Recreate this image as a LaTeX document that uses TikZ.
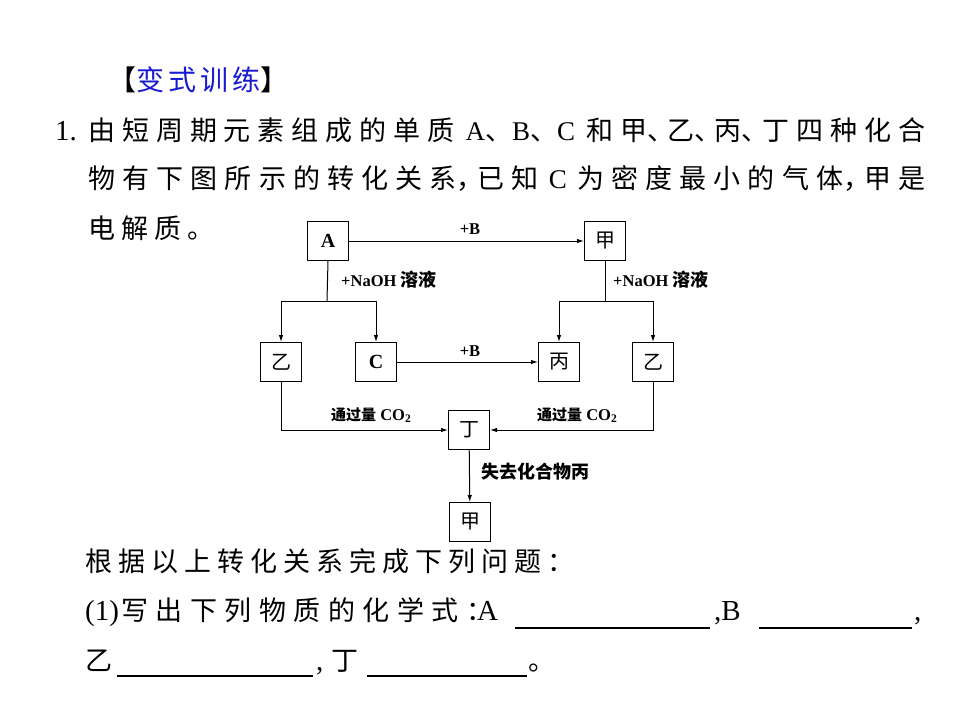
\documentclass[tikz,border=0pt]{standalone}
\usepackage{fontspec}
\usetikzlibrary{arrows.meta}
\newfontfamily\cjk{Noto Sans CJK SC}
\newfontfamily\cjkhalf[RawFeature=+halt]{Noto Sans CJK SC}
\newfontfamily\lat{Liberation Serif}
\definecolor{headblue}{RGB}{25,25,210}
\makeatletter
\newcommand\sprd[2]{\def\sprd@g{\hskip #1 plus 1fil\relax}\sprd@i#2\sprd@end}
\def\sprd@end{\sprd@end@}
\def\sprd@i#1{\ifx\sprd@end#1\unskip\else{#1}\sprd@g\expandafter\sprd@i\fi}
\makeatother
\newcommand\hw[1]{{\cjkhalf #1}}
\tikzset{
  txt/.style={inner sep=0pt, anchor=base west, font=\cjk\fontsize{27}{27}\selectfont},
  ltxt/.style={inner sep=0pt, anchor=base west, font=\lat\fontsize{29}{29}\selectfont},
  box/.style={draw, line width=1pt, minimum width=41pt, minimum height=39pt, inner sep=0pt},
  boxcjk/.style={box, font=\cjk\fontsize{20}{20}\selectfont},
  boxlat/.style={box, font=\lat\bfseries\fontsize{20}{20}\selectfont},
  lab/.style={inner sep=0pt, font=\lat\bfseries\fontsize{16.5}{16.5}\selectfont},
  labw/.style={lab, anchor=west},
  arr/.style={line width=1pt, -{Latex[length=7pt,width=4.5pt]}},
  ln/.style={line width=1pt},
  blank/.style={line width=1.6pt}
}
\begin{document}
\begin{tikzpicture}[x=1pt,y=-1pt]
\fill[white] (0,0) rectangle (960,720);
\useasboundingbox (0,0) rectangle (960,720);
% heading
\node[inner sep=0pt, anchor=base west, font=\cjk\fontsize{28}{28}\selectfont] (head) at (108,90) {【\textcolor{headblue}{\sprd{4pt}{变式训练}}】};
% question text
\node[ltxt] (num) at (55,140) {1.};
\node[txt] (l1) at (88,140) {\hbox to 837pt{\sprd{6pt}{由短周期元素组成的单{质\hspace{4pt}}{{\lat A}、{\lat B}、{\lat C}\hspace{4pt}}和{甲\hw{、}}{乙\hw{、}}{丙\hw{、}}丁四种化合}}};
\node[txt] (l2) at (88,188) {\hbox to 837pt{\sprd{6pt}{物有下图所示的转化关{系\hw{，}}已{知\hspace{3pt}}{{\lat C}\hspace{3pt}}为密度最小的气{体\hw{，}}甲是}}};
\node[txt] (l3) at (88,238) {\sprd{6pt}{电解质。}};
\node[txt] (l4) at (85,571) {\sprd{6pt}{根据以上转化关系完成下列问题：}};
\node[ltxt] (l5a) at (85,620) {(1)};
\node[txt] (l5b) at (121,620) {\sprd{7.5pt}{写出下列物质的化学式{\hw{：}}}};
\node[ltxt] (l5c) at (477,620) {A};
\node[ltxt] (l5d) at (714,620) {,B};
\node[ltxt] (l5e) at (914,620) {,};
\node[txt] (l6a) at (85,670) {乙};
\node[ltxt] (l6b) at (316,670) {,};
\node[txt] (l6c) at (331,670) {丁};
\node[txt] (l6d) at (528,670) {\hw{。}};
\draw[blank] (515,628) -- (710,628);
\draw[blank] (759,628) -- (912,628);
\draw[blank] (117,676) -- (313,676);
\draw[blank] (367,676) -- (527,676);
% diagram boxes
\node[boxlat] (nA) at (328,241) {A};
\node[boxcjk] (nJia) at (605,241) {甲};
\node[boxcjk] (nYiL) at (281,362) {乙};
\node[boxlat] (nC) at (376,362) {C};
\node[boxcjk] (nBing) at (559,362) {丙};
\node[boxcjk] (nYiR) at (653,362) {乙};
\node[boxcjk] (nDing) at (469,430) {丁};
\node[boxcjk] (nJia2) at (470,522) {甲};
% connectors
\draw[arr] (nA) -- (nJia);
\coordinate (bl) at (327,301);
\coordinate (br) at (605,301);
\draw[ln] (nA.south) -- (bl);
\draw[arr] (bl) -| (nYiL.north);
\draw[arr] (bl) -| (nC.north);
\draw[ln] (nJia.south) -- (br);
\draw[arr] (br) -| (nBing.north);
\draw[arr] (br) -| (nYiR.north);
\draw[arr] (nC) -- (nBing);
\draw[arr] (nYiL.south) |- (nDing.west);
\draw[arr] (nYiR.south) |- (nDing.east);
\draw[arr] (nDing) -- (nJia2);
% labels
\node[lab] (tB1) at (470,229) {+B};
\node[lab] (tB2) at (470,351) {+B};
\node[labw] (tN1) at (341,280) {+NaOH {\cjk\bfseries\fontsize{18}{18}\selectfont 溶液}};
\node[labw] (tN2) at (613,280) {+NaOH {\cjk\bfseries\fontsize{18}{18}\selectfont 溶液}};
\node[labw] (tC1) at (331,415) {{\cjk\bfseries\fontsize{15}{15}\selectfont 通过量} CO\textsubscript{2}};
\node[labw] (tC2) at (537,415) {{\cjk\bfseries\fontsize{15}{15}\selectfont 通过量} CO\textsubscript{2}};
\node[labw, font=\cjk\bfseries\fontsize{18}{18}\selectfont] (tL) at (481,472) {失去化合物丙};
\end{tikzpicture}
\end{document}
